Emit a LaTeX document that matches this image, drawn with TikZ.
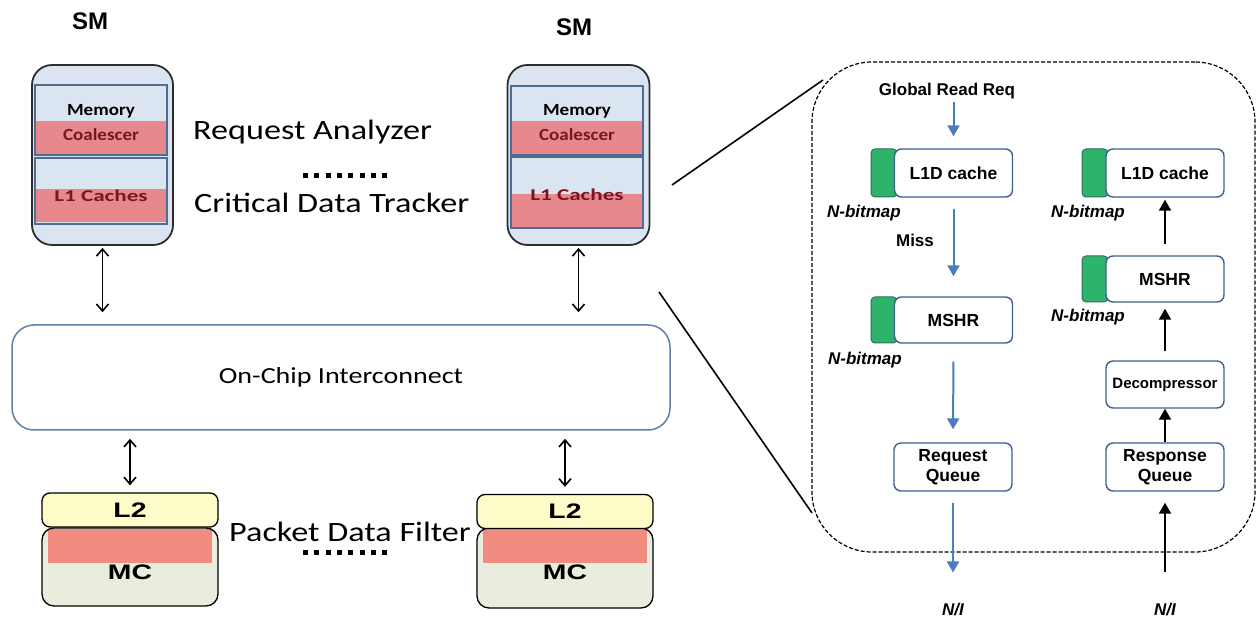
\documentclass[tikz,border=0pt]{standalone}
\usepackage{fontspec}
\usetikzlibrary{arrows.meta,calc}
\setmainfont{Liberation Sans}
\newfontfamily\calA[FakeStretch=1.22]{Carlito}
\newfontfamily\calL[FakeStretch=1.4]{Carlito}
\newfontfamily\calB[FakeStretch=1.12]{Carlito}
\newfontfamily\ari{Liberation Sans}
\newfontfamily\ariW[FakeStretch=1.35]{Liberation Sans}
\definecolor{smblue}{RGB}{219,229,241}
\definecolor{smline}{RGB}{45,45,45}
\definecolor{inline}{RGB}{79,108,146}
\definecolor{pinkc}{RGB}{230,136,142}
\definecolor{coal}{RGB}{122,22,28}
\definecolor{icline}{RGB}{95,128,168}
\definecolor{l2y}{RGB}{253,251,200}
\definecolor{mcg}{RGB}{233,237,221}
\definecolor{mcpink}{RGB}{241,140,128}
\definecolor{grn}{RGB}{46,180,106}
\definecolor{grline}{RGB}{45,110,95}
\definecolor{wline}{RGB}{62,96,142}
\definecolor{arrblue}{RGB}{74,126,187}
\tikzset{
 smbox/.style={draw=smline,line width=1.8pt,fill=smblue,rounded corners=20pt,inner sep=0pt},
 inbox/.style={draw=inline,line width=1.3pt,fill=smblue,inner sep=0pt,minimum width=132pt},
 band/.style 2 args={path picture={\fill[pinkc,sharp corners] ([yshift=#1]path picture bounding box.south west) rectangle ([yshift=#2]path picture bounding box.south east);}},
 memtxt/.style={inner sep=0pt,font=\calB\bfseries\fontsize{17}{18}\selectfont},
 cotxt/.style={inner sep=0pt,text=coal,font=\calB\bfseries\fontsize{17}{18}\selectfont},
 l1txt/.style={inner sep=0pt,text=coal,font=\calL\bfseries\fontsize{16.5}{18}\selectfont},
 biglbl/.style={inner sep=0pt,font=\calA\fontsize{28}{30}\selectfont},
 smlbl/.style={inner sep=0pt,font=\ari\bfseries\fontsize{24}{26}\selectfont},
 icbox/.style={draw=icline,line width=1.5pt,fill=white,rounded corners=22pt,inner sep=0pt,font=\calA\fontsize{23}{26}\selectfont},
 l2box/.style={draw=black,line width=1.3pt,fill=l2y,rounded corners=8pt,inner sep=0pt,font=\ariW\bfseries\fontsize{21}{23}\selectfont},
 mcbox/.style={draw=black,line width=1.3pt,fill=mcg,rounded corners=12pt,inner sep=0pt},
 mcband/.style={path picture={\fill[mcpink,sharp corners] ([xshift=6pt,yshift=-1pt]path picture bounding box.north west) rectangle ([xshift=-6pt,yshift=-35pt]path picture bounding box.north east);}},
 mctxt/.style={inner sep=0pt,font=\ariW\bfseries\fontsize{21}{23}\selectfont},
 dbl/.style={{Straight Barb[length=7pt,width=12pt]}-{Straight Barb[length=7pt,width=12pt]},line width=1.6pt},
 dots/.style={line width=5pt,dash pattern=on 5pt off 6.3pt},
 zl/.style={line width=1.6pt},
 dbox/.style={draw=black,line width=1.2pt,dash pattern=on 4pt off 2pt,rounded corners=60pt,inner sep=0pt},
 gtab/.style={draw=grline,line width=1pt,fill=grn,rounded corners=4pt,minimum width=26pt,inner sep=0pt},
 wbox/.style={draw=wline,line width=1.4pt,fill=white,rounded corners=7pt,inner sep=0pt,minimum width=118pt,align=center,font=\ari\bfseries\fontsize{17.5}{19.5}\selectfont},
 rtxt/.style={inner sep=0pt,font=\ari\bfseries\fontsize{17}{19}\selectfont},
 nbtxt/.style={inner sep=0pt,anchor=base,font=\ari\bfseries\itshape\fontsize{17}{19}\selectfont},
 barrow/.style={-{Triangle[length=11pt,width=12pt]},draw=arrblue,line width=2pt},
 karrow/.style={-{Triangle[length=11pt,width=12pt]},draw=black,line width=2pt},
}
\begin{document}
\begin{tikzpicture}[x=1pt,y=-1pt]
\useasboundingbox (0,0) rectangle (1259,617);
% SM labels
\node[smlbl] (smt1) at (90,21) {SM};
\node[smlbl] (smt2) at (574,27) {SM};
% SM 1
\node[smbox,minimum width=141pt,minimum height=180pt] (sm1) at (102.5,155) {};
\node[inbox,minimum height=70pt,band={0pt}{34pt}] (mc1) at (101,120) {};
\node[inbox,minimum height=66pt,band={2pt}{35pt}] (lc1) at (101,191) {};
\node[memtxt] (mem1) at (101,111) {Memory};
\node[cotxt] (coa1) at (101,135) {Coalescer};
\node[l1txt] (l1c1) at (101,196) {L1 Caches};
% SM 2
\node[smbox,minimum width=142pt,minimum height=180pt] (sm2) at (578.5,155) {};
\node[inbox,minimum height=69pt,band={0pt}{34pt}] (mc2) at (577,120.5) {};
\node[inbox,minimum height=71pt,band={0pt}{34pt}] (lc2) at (577,192.5) {};
\node[memtxt] (mem2) at (577,111) {Memory};
\node[cotxt] (coa2) at (577,135) {Coalescer};
\node[l1txt] (l1c2) at (577,195) {L1 Caches};
% labels
\node[biglbl,anchor=base west] (ra) at (193,140) {Request Analyzer};
\node[biglbl,anchor=base west] (cdt) at (194,213) {Critical Data Tracker};
\draw[dots] (303,176) -- (389,176);
% interconnect
\node[icbox,minimum width=658pt,minimum height=105pt] (ic) at (341,377.5) {On-Chip Interconnect};
% memory partitions
\node[mcbox,mcband,minimum width=176pt,minimum height=78pt] (mcA) at (130,567) {};
\node[l2box,minimum width=176pt,minimum height=34pt] (l2A) at (130,510) {L2};
\node[mctxt] (mcAt) at (130,572) {MC};
\node[mcbox,mcband,minimum width=176pt,minimum height=80pt] (mcB) at (565,568) {};
\node[l2box,minimum width=176pt,minimum height=34pt] (l2B) at (565,511.5) {L2};
\node[mctxt] (mcBt) at (565,572) {MC};
\node[biglbl,anchor=base west] (pdf) at (229,541) {Packet Data Filter};
\draw[dots] (303,552) -- (389,552);
% arrows left
\draw[dbl,shorten <=2pt,shorten >=12pt] (sm1.south) -- (sm1.south |- ic.north);
\draw[dbl,shorten <=2pt,shorten >=12pt] (sm2.south) -- (sm2.south |- ic.north);
\draw[dbl,shorten <=8pt,shorten >=7pt] (ic.south -| l2A.north) -- (l2A.north);
\draw[dbl,shorten <=8pt,shorten >=7pt] (ic.south -| l2B.north) -- (l2B.north);
% zoom lines
\coordinate (za1) at (672,185);
\coordinate (za2) at (823,80);
\coordinate (zb1) at (659,292);
\coordinate (zb2) at (812,513);
\draw[zl] (za1) -- (za2);
\draw[zl] (zb1) -- (zb2);
% detail panel
\node[dbox,minimum width=443pt,minimum height=490pt] (panel) at (1033.5,307) {};
\node[rtxt,anchor=base] (grr) at (947,96) {Global Read Req};
% left column
\node[gtab,minimum height=48pt] (g1) at (884,173) {};
\node[wbox,minimum height=48pt] (l1a) at (953.5,173) {L1D cache};
\node[nbtxt] (nb1) at (864,218) {N-bitmap};
\node[rtxt,anchor=base] (miss) at (915,247) {Miss};
\node[gtab,minimum height=46pt] (g2) at (884,320) {};
\node[wbox,minimum height=46pt] (msa) at (953.5,320) {MSHR};
\node[nbtxt] (nb2) at (865,365) {N-bitmap};
\node[wbox,minimum height=48pt] (rqq) at (953,467) {Request\\Queue};
\node[rtxt,anchor=base,font=\ari\bfseries\itshape\fontsize{17}{19}\selectfont] (ni1) at (953,615) {N/I};
% right column
\node[gtab,minimum height=48pt] (g3) at (1095,173) {};
\node[wbox,minimum height=48pt] (l1b) at (1165,173) {L1D cache};
\node[nbtxt] (nb3) at (1088,218) {N-bitmap};
\node[gtab,minimum height=46pt] (g4) at (1095,279) {};
\node[wbox,minimum height=46pt] (msb) at (1165,279) {MSHR};
\node[nbtxt] (nb4) at (1088,322) {N-bitmap};
\node[wbox,minimum height=47pt,font=\ari\bfseries\fontsize{15}{17}\selectfont] (dec) at (1165,384.5) {Decompressor};
\node[wbox,minimum height=48pt] (rsq) at (1165,467) {Response\\Queue};
\node[rtxt,anchor=base,font=\ari\bfseries\itshape\fontsize{17}{19}\selectfont] (ni2) at (1165,615) {N/I};
% arrows
\draw[barrow,shorten <=2pt,shorten >=12pt] (grr.south -| l1a.north) -- (l1a.north);
\draw[barrow,shorten <=11pt,shorten >=20pt] (l1a.south) -- (msa.north);
\draw[barrow,shorten <=18pt,shorten >=13pt] (msa.south) -- (rqq.north);
\draw[barrow,shorten <=11pt,shorten >=30pt] (rqq.south) -- (ni1.north);
\draw[karrow,shorten <=30pt,shorten >=11pt] (ni2.north) -- (rsq.south);
\draw[karrow] (rsq.north) -- (dec.south);
\draw[karrow,shorten <=9pt,shorten >=6pt] (dec.north) -- (msb.south);
\draw[karrow,shorten <=11pt,shorten >=2pt] (msb.north) -- (l1b.south);
\end{tikzpicture}
\end{document}
